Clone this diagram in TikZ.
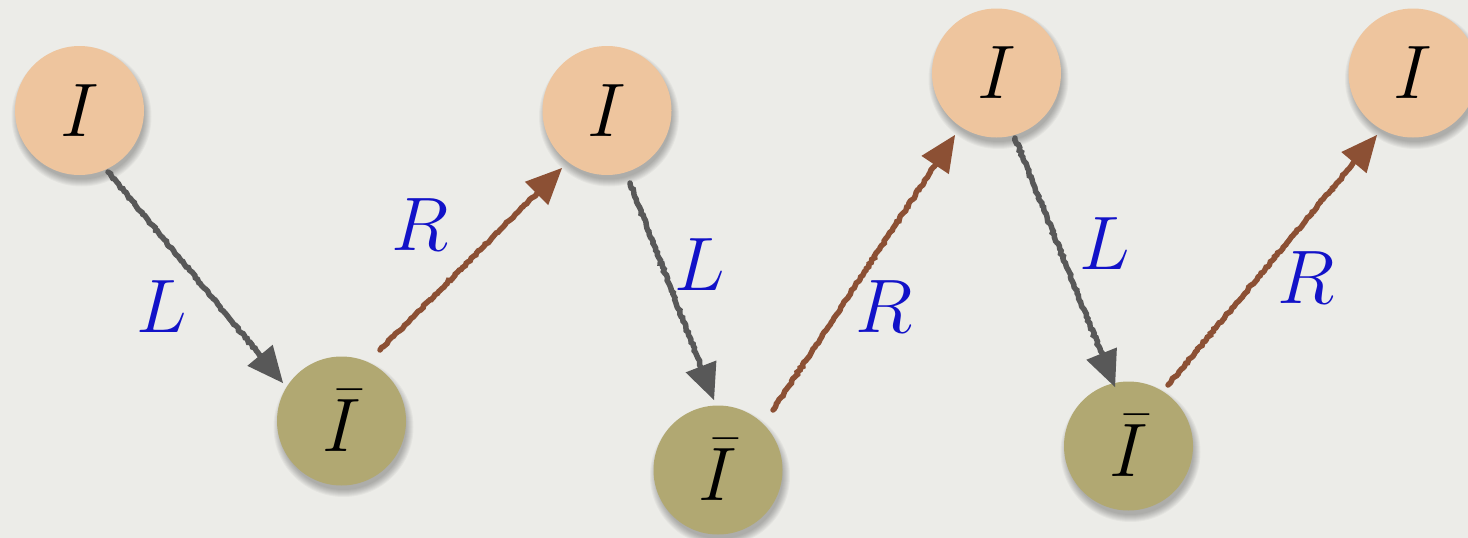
\documentclass[tikz,border=0pt]{standalone}
\usetikzlibrary{arrows.meta,calc,decorations.pathmorphing,backgrounds}
\definecolor{paper}{RGB}{236,236,232}
\definecolor{peach}{RGB}{238,197,158}
\definecolor{olivefill}{RGB}{177,168,114}
\definecolor{leftgray}{RGB}{88,88,88}
\definecolor{rightbrown}{RGB}{140,80,52}
\definecolor{labelblue}{RGB}{18,18,200}
% large math glyphs: \Huge enlarged to the size of the drawing
\newcommand\bigglyph[1]{\scalebox{3.05}{\Huge$#1$}}
\begin{document}
\begin{tikzpicture}[x=1pt,y=-1pt,
  state/.style={circle,minimum size=129pt,inner sep=0pt,outer sep=0pt},
  idnode/.style={state,fill=peach},
  barnode/.style={state,fill=olivefill},
  movelabel/.style={text=labelblue,inner sep=0pt},
  stroke/.style={line width=5.5pt,line cap=round,
    decorate,decoration={random steps,segment length=2.5pt,amplitude=0.9pt}},
  tip/.style={line width=0pt,-{Triangle[length=36pt,width=33pt,round]}},
  leftmove/.style={draw=leftgray,fill=leftgray},
  rightmove/.style={draw=rightbrown,fill=rightbrown},
]
% page frame
\useasboundingbox (0,0) rectangle (1468,538);

% states
\node[idnode]  (I1)  at (79.5,110.5) {\bigglyph{I}};
\node[barnode] (Ib1) at (341.5,421)  {\bigglyph{\bar{I}}};
\node[idnode]  (I2)  at (607,110.5)  {\bigglyph{I}};
\node[barnode] (Ib2) at (718,470)    {\bigglyph{\bar{I}}};
\node[idnode]  (I3)  at (996.5,73)   {\bigglyph{I}};
\node[barnode] (Ib3) at (1128.5,446) {\bigglyph{\bar{I}}};
\node[idnode]  (I4)  at (1413,73)    {\bigglyph{I}};

% paper and soft shadows behind the states
\begin{scope}[on background layer]
  \fill[paper] (0,0) rectangle (1468,538);
  \foreach \n in {I1,Ib1,I2,Ib2,I3,Ib3,I4}{
    \foreach \k in {0,...,7}{
      \fill[black,opacity=0.035] ($(\n)+(2,6)$) circle ({70-\k});
    }
  }
\end{scope}

% end points of the moves
\coordinate (a1s) at ($(I1)+(28.5,61.5)$);
\coordinate (a1e) at ($(Ib1)+(-58.5,-38)$);
\coordinate (a2s) at ($(Ib1)+(38.5,-71)$);
\coordinate (a2e) at ($(I2)+(-45,57.5)$);
\coordinate (a3s) at ($(I2)+(23,72.5)$);
\coordinate (a3e) at ($(Ib2)+(-4,-70)$);
\coordinate (a4s) at ($(Ib2)+(55,-60)$);
\coordinate (a4e) at ($(I3)+(-41.5,62)$);
\coordinate (a5s) at ($(I3)+(18.5,65)$);
\coordinate (a5e) at ($(Ib3)+(-13.5,-59)$);
\coordinate (a6s) at ($(Ib3)+(39.5,-61)$);
\coordinate (a6e) at ($(I4)+(-36,62)$);

% moves: a rough stroke and a triangular head
\foreach \a/\s in {a1/leftmove,a2/rightmove,a3/leftmove,a4/rightmove,a5/leftmove,a6/rightmove}{
  \draw[stroke,\s,fill=none] (\a s) -- ($(\a e)!22pt!(\a s)$);
  \draw[tip,\s] ($(\a e)!40pt!(\a s)$) -- (\a e);
}

% move labels
\node[movelabel] (lab1) at (162,307)  {\bigglyph{L}};
\node[movelabel] (lab2) at (420,225)  {\bigglyph{R}};
\node[movelabel] (lab3) at (700,265)  {\bigglyph{L}};
\node[movelabel] (lab4) at (884,307)  {\bigglyph{R}};
\node[movelabel] (lab5) at (1105,244) {\bigglyph{L}};
\node[movelabel] (lab6) at (1306,278) {\bigglyph{R}};
\end{tikzpicture}
\end{document}
